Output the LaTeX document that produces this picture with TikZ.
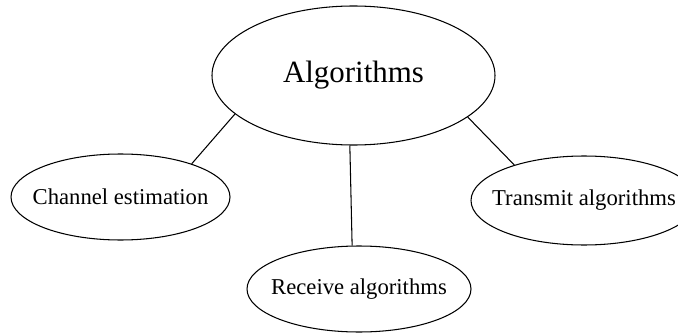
\documentclass[tikz,border=0pt]{standalone}
\usepackage{fontspec}
\setmainfont{Liberation Serif}
\usetikzlibrary{shapes.geometric}
\tikzset{
	bubble/.style={draw,ellipse,inner sep=0pt,line width=0.6pt,minimum width=4.45cm,minimum height=1.74cm,font=\fontsize{12.9}{15}\selectfont},
	link/.style={line width=0.6pt}
}
\begin{document}
\begin{tikzpicture}
			\useasboundingbox (0,0) rectangle (13.56,6.66);
			\node[bubble,minimum width=5.66cm,minimum height=2.78cm,font=\fontsize{17.6}{20}\selectfont] (alg) at (7.07,5.15) {\makebox[0pt]{Algorithms}};
			\node[bubble,minimum width=4.38cm,minimum height=1.72cm] (chan) at (2.41,2.72) {\makebox[0pt]{Channel estimation}};
			\node[bubble,minimum width=4.52cm,minimum height=1.78cm] (trans) at (11.68,2.65) {\makebox[0pt]{Transmit algorithms}};
			\node[bubble,minimum width=4.48cm,minimum height=1.72cm] (recv) at (7.18,0.88) {\makebox[0pt]{Receive algorithms}};
			\draw [link] (alg.198)--(chan.25);
			\draw [link] (alg.267)--(recv.99);
			\draw [link] (alg.340)--(trans.153);
		\end{tikzpicture}
\end{document}
